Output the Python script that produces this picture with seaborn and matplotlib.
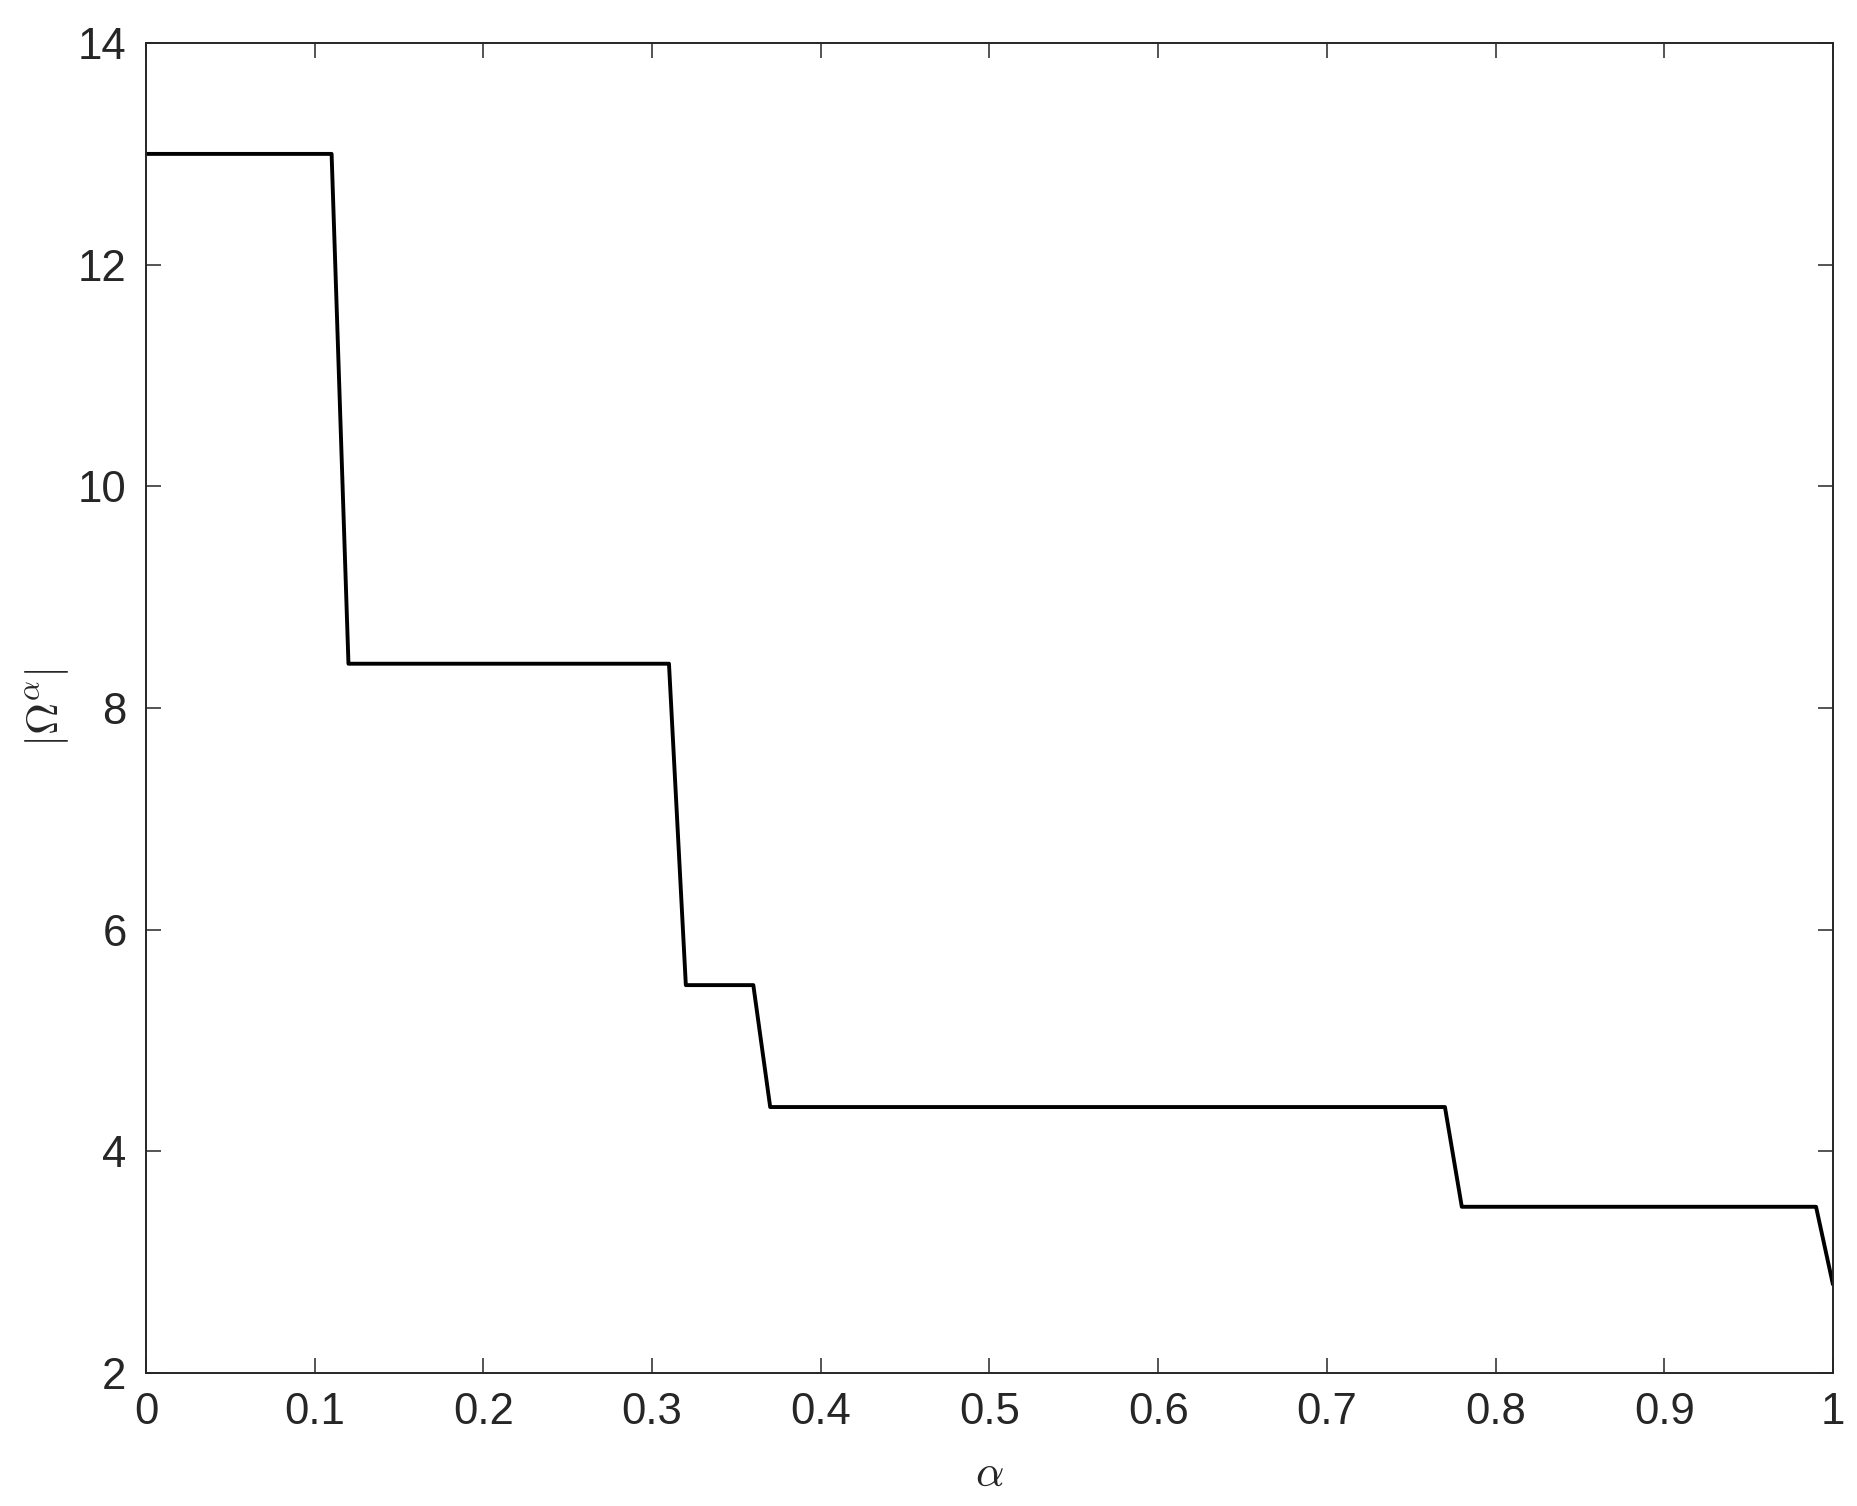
import pandas as pd
import matplotlib
matplotlib.use('Agg')
import matplotlib.pyplot as plt
import seaborn as sns

# break points of the |Omega^alpha| curve
alpha = [0.0, 0.11, 0.12, 0.31, 0.32, 0.36, 0.37, 0.77, 0.78, 0.99, 1.0]
omega_size = [13.0, 13.0, 8.4, 8.4, 5.5, 5.5, 4.4, 4.4, 3.5, 3.5, 2.8]
x_ticks = [0, 0.1, 0.2, 0.3, 0.4, 0.5, 0.6, 0.7, 0.8, 0.9, 1]
x_tick_labels = ['0', '0.1', '0.2', '0.3', '0.4', '0.5', '0.6', '0.7', '0.8', '0.9', '1']
y_ticks = [2, 4, 6, 8, 10, 12, 14]

sns.set_theme(style='ticks')
plt.rcParams['font.family'] = ['Liberation Sans', 'DejaVu Sans']
plt.rcParams['mathtext.fontset'] = 'cm'

df = pd.DataFrame({'alpha': alpha, 'omega': omega_size})

fig = plt.figure(figsize=(18.58, 15.06), dpi=100)
ax = fig.add_axes([0.0786, 0.0883, 0.9079, 0.8831])

sns.lineplot(data=df, x='alpha', y='omega', ax=ax, color='black',
             linewidth=2.8, estimator=None, sort=False)

ax.set_xlim(0, 1)
ax.set_ylim(2, 14)
ax.set_xticks(x_ticks)
ax.set_xticklabels(x_tick_labels)
ax.set_yticks(y_ticks)

edge = '#262626'
for side in ['top', 'right', 'bottom', 'left']:
    ax.spines[side].set_visible(True)
    ax.spines[side].set_color(edge)
    ax.spines[side].set_linewidth(1.4)

ax.tick_params(axis='both', which='major', direction='in', length=11, width=1.1,
               color=edge, labelcolor=edge, labelsize=31.5, pad=14,
               top=True, right=True)

ax.set_xlabel(r'$\alpha$', fontsize=32, color=edge, labelpad=15)
ax.set_ylabel(r'$|\Omega^\alpha|$', fontsize=32, color=edge, labelpad=5)

fig.savefig('out.png', dpi=100, facecolor='white')
